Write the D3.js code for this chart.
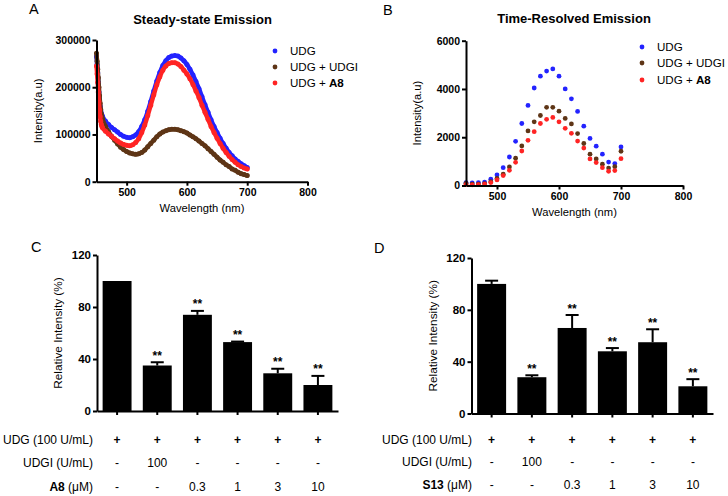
<!DOCTYPE html>
<html><head><meta charset="utf-8">
<script src="https://cdn.jsdelivr.net/npm/d3@7"></script>
<style>
body{margin:0;background:#fff}
svg{display:block;font-family:"Liberation Sans",Arial,sans-serif}
</style></head><body>
<svg id="c" width="728" height="496"></svg>
<script>
// ---------- Panel A: steady-state emission ----------
const wlA = [450,451,452,453,454,455,456,457,458,459,460,465,470,475,480,485,490,495,500,505,510,515,520,525,530,535,540,545,550,555,560,565,570,575,580,585,590,595,600,605,610,615,620,625,630,635,640,645,650,655,660,665,670,675,680,685,690,695,700];
const steadyUDG = [265000,248000,230000,210000,190000,173000,160000,151000,145000,141000,138000,128000,121000,115000,110000,105000,100000,96000,94000,93000,95000,99000,106000,117000,131000,149000,170000,192000,213000,231000,246000,256000,263000,266000,267000,266000,262000,256000,248000,238000,226000,212000,197000,180000,163000,147000,131000,117000,104000,92000,81000,71000,62000,55000,48000,43000,38000,34000,30000];
const steadyUDGI = [272000,255000,238000,220000,200000,182000,166000,153000,143000,137000,133000,117000,106000,96000,88000,80000,73000,68000,64000,61000,59000,58000,59000,62000,67000,74000,81000,88000,95000,101000,105000,108000,110000,111000,111000,110000,108000,106000,103000,99000,95000,91000,86000,81000,76000,70000,64000,58000,52000,46000,41000,36000,32000,27000,24000,20000,17000,15000,13000];
const steadyA8 = [245000,228000,210000,190000,170000,152000,138000,128000,121000,117000,114000,107000,101000,96000,91000,86000,82000,79000,77000,76000,78000,83000,91000,104000,120000,140000,162000,184000,205000,222000,236000,245000,250000,252000,252000,249000,244000,236000,228000,218000,206000,192000,178000,162000,147000,132000,117000,104000,92000,81000,71000,62000,54000,47000,41000,36000,32000,29000,27000];
const ticksAx = [500,600,700,800];
const ticksAy = [0,100000,200000,300000];

// ---------- Panel B: time-resolved emission ----------
const wlB = [450,460,470,480,490,500,510,520,530,540,550,560,570,580,590,600,610,620,630,640,650,660,670,680,690,700];
const trUDG = [120,110,120,140,260,440,740,1180,1830,2570,3320,4040,4530,4740,4830,4530,4000,3590,3070,2460,1950,1630,1300,970,910,1600];
const trUDGI = [90,60,60,80,160,290,470,770,1130,1640,2260,2640,2900,3240,3240,3080,2780,2550,2150,1740,1300,1100,880,720,780,1420];
const trA8 = [40,30,40,60,120,230,410,630,960,1430,1870,2230,2570,2740,2820,2640,2370,2160,1840,1550,1100,950,740,590,620,1110];
const ticksBy = [0,2000,4000,6000];

const seriesNames = ["UDG","UDG + UDGI","UDG + A8"];
const seriesColors = ["#2323ff","#5e3516","#ff2424"];

// ---------- Panel C / D: relative intensity bars ----------
const conditions = ["c1","c2","c3","c4","c5","c6"];
const relC = [100,35,74,53,29,20];
const errC = [0,2.5,3,0.4,3.5,7];
const sigC = ["","**","**","**","**","**"];
const relD = [100,28,66,48,55,21];
const errD = [2.5,1.5,10,2.5,10,5.5];
const sigD = ["","**","**","**","**","**"];
const ticksRel = [0,40,80,120];
const rowUDG = ["+","+","+","+","+","+"];
const rowUDGI = ["-","100","-","-","-","-"];
const rowDose = ["-","-","0.3","1","3","10"];

const svg = d3.select("#c");
const FONT = '"Liberation Sans",Arial,sans-serif';

function styleAxis(g, fs){
  g.selectAll("path.domain").attr("stroke","#000").attr("stroke-width",2);
  g.selectAll(".tick line").attr("stroke","#000").attr("stroke-width",2);
  g.selectAll(".tick text").attr("font-size",fs).attr("font-weight","bold").attr("font-family",FONT).attr("fill","#000");
}

function spectrum(opt){
  const x = d3.scaleLinear().domain([450,800]).range([opt.x0,opt.x1]);
  const y = d3.scaleLinear().domain([0,opt.ymax]).range([opt.y0,opt.y1]);
  const g = svg.append("g");
  // data
  opt.series.forEach((s,i)=>{
    const pts = opt.wl.map((w,j)=>[w,s[j]]);
    if(opt.dense){
      g.append("path").datum(pts)
        .attr("d", d3.line().x(d=>x(d[0])).y(d=>y(d[1])).curve(d3.curveMonotoneX))
        .attr("fill","none").attr("stroke",seriesColors[i]).attr("stroke-width",4.4)
        .attr("stroke-linecap","round");
    }
    g.append("g").selectAll("circle").data(pts).join("circle")
      .attr("cx",d=>x(d[0])).attr("cy",d=>y(d[1])).attr("r",opt.r)
      .attr("fill",seriesColors[i]);
  });
  const gx = g.append("g").attr("transform",`translate(0,${opt.y0})`)
    .call(d3.axisBottom(x).tickValues(ticksAx).tickSize(4).tickPadding(3).tickSizeOuter(0));
  styleAxis(gx, 10.5);
  const gy = g.append("g").attr("transform",`translate(${opt.x0},0)`)
    .call(d3.axisLeft(y).tickValues(opt.yticks).tickSize(4).tickPadding(2).tickSizeOuter(0).tickFormat(d3.format("d")));
  styleAxis(gy, 10.5);
  // titles
  g.append("text").attr("x",opt.tx).attr("y",opt.ty).attr("text-anchor","middle")
    .attr("font-size",13).attr("font-weight","bold").text(opt.title);
  g.append("text").attr("x",(opt.x0+opt.x1)/2).attr("y",opt.y0+30).attr("text-anchor","middle")
    .attr("font-size",11.2).text("Wavelength (nm)");
  g.append("text").attr("transform",`translate(${opt.ylx},${(opt.y0+opt.y1)/2}) rotate(-90)`)
    .attr("text-anchor","middle").attr("dy","0.35em").attr("font-size",11.2).text("Intensity(a.u)");
  g.append("text").attr("x",opt.lx).attr("y",opt.ly).attr("font-size",14.5).text(opt.letter);
  // legend
  seriesNames.forEach((n,i)=>{
    const yy = opt.legY[i];
    g.append("circle").attr("cx",opt.legX).attr("cy",yy).attr("r",2.4).attr("fill",seriesColors[i]);
    const t = g.append("text").attr("x",opt.legX+15).attr("y",yy).attr("dy","0.36em").attr("font-size",11.6);
    if(n.endsWith("A8")){ t.append("tspan").text("UDG + "); t.append("tspan").attr("font-weight","bold").text("A8"); }
    else t.text(n);
  });
}

spectrum({x0:96.5,x1:307.5,y0:181.7,y1:40,ymax:300000,wl:wlA,series:[steadyUDG,steadyUDGI,steadyA8],
  dense:true,r:2.5,yticks:ticksAy,title:"Steady-state Emission",tx:202.5,ty:23.5,ylx:38,
  letter:"A",lx:29,ly:14,legX:275,legY:[51,67,83]});
spectrum({x0:466,x1:683,y0:185.5,y1:40.7,ymax:6000,wl:wlB,series:[trUDG,trUDGI,trA8],
  dense:false,r:2.4,yticks:ticksBy,title:"Time-Resolved Emission",tx:574,ty:23,ylx:417.5,
  letter:"B",lx:383,ly:14.5,legX:642,legY:[47,63,80]});

function bars(opt){
  const x = d3.scaleBand().domain(conditions).range([opt.x0,opt.x1]).paddingInner(0.28).paddingOuter(0.14);
  const y = d3.scaleLinear().domain([0,120]).range([opt.y0,opt.y1]);
  const g = svg.append("g");
  g.append("g").selectAll("rect").data(conditions).join("rect")
    .attr("x",d=>x(d)).attr("width",x.bandwidth())
    .attr("y",(d,i)=>y(opt.vals[i])).attr("height",(d,i)=>opt.y0-y(opt.vals[i]))
    .attr("fill","#000");
  conditions.forEach((c,i)=>{
    const cx = x(c)+x.bandwidth()/2;
    if(opt.errs[i]>0){
      const top = y(opt.vals[i]+opt.errs[i]);
      g.append("line").attr("x1",cx).attr("x2",cx).attr("y1",y(opt.vals[i])).attr("y2",top)
        .attr("stroke","#000").attr("stroke-width",2);
      g.append("line").attr("x1",cx-6.5).attr("x2",cx+6.5).attr("y1",top).attr("y2",top)
        .attr("stroke","#000").attr("stroke-width",2);
    }
    if(opt.sig[i]){
      g.append("text").attr("x",cx).attr("y",y(opt.vals[i]+opt.errs[i])-2.5).attr("text-anchor","middle")
        .attr("font-size",12).attr("font-weight","bold").text(opt.sig[i]);
    }
  });
  const gx = g.append("g").attr("transform",`translate(0,${opt.y0})`)
    .call(d3.axisBottom(x).tickSize(4).tickSizeOuter(0).tickFormat(""));
  styleAxis(gx, 11);
  const gy = g.append("g").attr("transform",`translate(${opt.x0},0)`)
    .call(d3.axisLeft(y).tickValues(ticksRel).tickSize(4).tickPadding(2).tickSizeOuter(0));
  styleAxis(gy, 11.5);
  g.append("text").attr("transform",`translate(${opt.ylx},${(opt.y0+opt.y1)/2}) rotate(-90)`)
    .attr("text-anchor","middle").attr("dy","0.35em").attr("font-size",11.8).text("Relative Intensity (%)");
  g.append("text").attr("x",opt.lx).attr("y",opt.ly).attr("font-size",14.5).text(opt.letter);
  // condition table
  const rows = [rowUDG,rowUDGI,rowDose];
  rows.forEach((r,ri)=>{
    const yy = opt.rowY[ri];
    r.forEach((v,i)=>{
      g.append("text").attr("x",x(conditions[i])+x.bandwidth()/2).attr("y",yy).attr("dy","0.36em")
        .attr("text-anchor","middle").attr("font-size",12).attr("font-weight",v==="+"?"bold":"normal").text(v);
    });
    const t = g.append("text").attr("x",opt.rowX).attr("y",yy).attr("dy","0.36em").attr("text-anchor","end").attr("font-size",12);
    if(ri===0) t.text("UDG (100 U/mL)");
    else if(ri===1) t.text("UDGI (U/mL)");
    else { t.append("tspan").attr("font-weight","bold").text(opt.compound); t.append("tspan").text(" (μM)"); }
  });
}

bars({x0:97,x1:338,y0:411,y1:255,vals:relC,errs:errC,sig:sigC,ylx:58,letter:"C",lx:31,ly:252,
  rowX:93,rowY:[440,463,486.5],compound:"A8"});
bars({x0:471.5,x1:713,y0:413.5,y1:258,vals:relD,errs:errD,sig:sigD,ylx:433,letter:"D",lx:374,ly:253,
  rowX:472,rowY:[439.5,462,485],compound:"S13"});
</script>
</body></html>
